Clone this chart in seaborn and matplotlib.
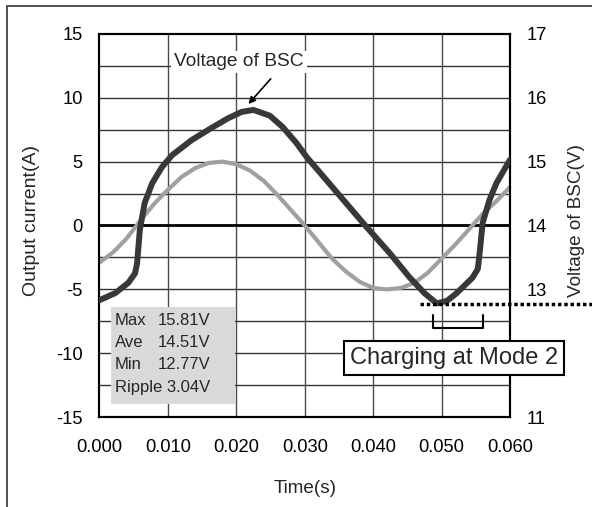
import matplotlib
matplotlib.use("Agg")
import matplotlib.pyplot as plt
from matplotlib.patches import Rectangle
import seaborn as sns

# Output current (left axis), 2 ms spacing
current_t = [0.000, 0.002, 0.004, 0.006, 0.008, 0.010, 0.012, 0.014, 0.016, 0.018,
             0.020, 0.022, 0.024, 0.026, 0.028, 0.030, 0.032, 0.034, 0.036, 0.038,
             0.040, 0.042, 0.044, 0.046, 0.048, 0.050, 0.052, 0.054, 0.056, 0.058, 0.060]
current_a = [-2.9, -2.1, -1.0, 0.4, 1.7, 2.8, 3.8, 4.5, 4.9, 5.0,
             4.8, 4.3, 3.5, 2.4, 1.2, 0.0, -1.3, -2.6, -3.6, -4.4,
             -4.9, -5.0, -4.9, -4.5, -3.7, -2.6, -1.5, -0.3, 0.9, 1.9, 3.0]

# Voltage of BSC (right axis)
volt_t = [0.0000, 0.0023, 0.0042, 0.0052, 0.0055, 0.0059, 0.0066, 0.0077, 0.0091, 0.0106,
          0.0135, 0.0164, 0.0188, 0.0208, 0.0225, 0.0249, 0.0268, 0.0288, 0.0303, 0.0390,
          0.0424, 0.0453, 0.0475, 0.0493, 0.0508, 0.0522, 0.0545, 0.0553, 0.0556, 0.0560,
          0.0570, 0.0580, 0.0600]
volt_v = [12.83, 12.94, 13.10, 13.25, 13.41, 13.93, 14.35, 14.66, 14.91, 15.10,
          15.34, 15.53, 15.68, 15.78, 15.81, 15.72, 15.54, 15.29, 15.07, 13.98,
          13.57, 13.19, 12.94, 12.78, 12.82, 12.94, 13.18, 13.32, 13.61, 14.04,
          14.40, 14.66, 15.03]

stats_names = ["Max", "Ave", "Min"]
stats_values = ["15.81V", "14.51V", "12.77V"]
ripple_text = "Ripple 3.04V"
v_min = 12.77
v_peak = (0.0215, 15.87)
charging_start, charging_end = 0.0487, 0.0560

x_ticks = [0.000, 0.010, 0.020, 0.030, 0.040, 0.050, 0.060]
y_ticks_left = [-15, -10, -5, 0, 5, 10, 15]
# the "12" label is hidden behind the "Charging at Mode 2" box in the original
y_ticks_right = [11, 13, 14, 15, 16, 17]

sns.set_theme(style="white")
plt.rcParams["font.family"] = ["Liberation Sans", "DejaVu Sans"]
plt.rcParams["axes.unicode_minus"] = False

fig = plt.figure(figsize=(5.92, 5.07), dpi=100)
ax = fig.add_axes([0.168, 0.1775, 0.6935, 0.7555])
ax2 = ax.twinx()

# frame around the whole chart (runs off the right and bottom edges)
fig.patches.append(Rectangle((0.0118, -0.2), 1.5, 1.188, transform=fig.transFigure,
                             fill=False, edgecolor="#333333", lw=1.2))

# grid
for yv in [-12.5, -10, -7.5, -5, -2.5, 2.5, 5, 7.5, 10, 12.5]:
    ax.axhline(yv, color="#333333", lw=1.0, zorder=0)
for xv in [0.010, 0.020, 0.030, 0.040, 0.050]:
    ax.axvline(xv, color="#4a4a4a", lw=1.0, zorder=0)
ax.axhline(0, color="black", lw=2.0, zorder=1)

sns.lineplot(x=current_t, y=current_a, ax=ax, color="#a0a0a0", lw=3.0, zorder=3)
sns.lineplot(x=volt_t, y=volt_v, ax=ax2, color="#383838", lw=4.3, zorder=3)

ax.set_xlim(0, 0.060)
ax.set_ylim(-15, 15)
ax2.set_ylim(11, 17)
ax.set_xticks(x_ticks)
ax.set_xticklabels([f"{t:.3f}" for t in x_ticks])
ax.set_yticks(y_ticks_left)
ax2.set_yticks(y_ticks_right)
ax.tick_params(axis="both", length=0, labelsize=13.2, colors="black")
ax.tick_params(axis="y", pad=12)
ax.tick_params(axis="x", pad=16)
ax2.tick_params(axis="y", length=0, labelsize=13.2, pad=12, colors="black")
for a in (ax, ax2):
    for s in a.spines.values():
        s.set_color("black")
        s.set_linewidth(1.5)

ax.set_xlabel("Time(s)", fontsize=13.6)
ax.set_ylabel("Output current(A)", fontsize=14)
ax2.set_ylabel("Voltage of BSC(V)", fontsize=13.6)
ax.xaxis.set_label_coords(0.5, -0.1645)
ax.yaxis.set_label_coords(-0.145, 0.512)
ax2.yaxis.set_label_coords(1.142, 0.512)

# stats box
ax.add_patch(Rectangle((0.028, 0.034), 0.302, 0.253, transform=ax.transAxes,
                       facecolor="#d9d9d9", edgecolor="none", zorder=4))
for i, (name, val) in enumerate(zip(stats_names, stats_values)):
    yy = 0.2507 - i * 0.0574
    ax.text(0.038, yy, name, transform=ax.transAxes, fontsize=12, va="center", zorder=5)
    ax.text(0.1425, yy, val, transform=ax.transAxes, fontsize=12, va="center", zorder=5)
ax.text(0.038, 0.0783, ripple_text, transform=ax.transAxes, fontsize=12, va="center", zorder=5)

# peak label with arrow
ax2.text(0.340, 0.927, "Voltage of BSC", transform=ax.transAxes, fontsize=13.8,
         ha="center", va="center", zorder=6,
         bbox=dict(boxstyle="square,pad=0.15", facecolor="white", edgecolor="none"))
ax2.annotate("", xy=v_peak, xytext=(0.0253, 16.33),
             arrowprops=dict(arrowstyle="-|>", color="black", lw=1.2, mutation_scale=10))

# minimum voltage dotted line and charging interval
ax2.plot([0.0468, 0.0720], [v_min, v_min], color="black", lw=2.5,
         linestyle=(0, (1, 0.8)), clip_on=False, zorder=5)
ax2.plot([charging_start, charging_start, charging_end, charging_end],
         [12.60, 12.40, 12.40, 12.60], color="black", lw=1.5, zorder=5)
ax2.text(0.8636, 0.155, "Charging at Mode 2", transform=ax.transAxes, fontsize=17,
         ha="center", va="center", zorder=7, clip_on=False,
         bbox=dict(boxstyle="square,pad=0.25", facecolor="white", edgecolor="black", lw=1.5))

fig.savefig("out.png", dpi=100)
